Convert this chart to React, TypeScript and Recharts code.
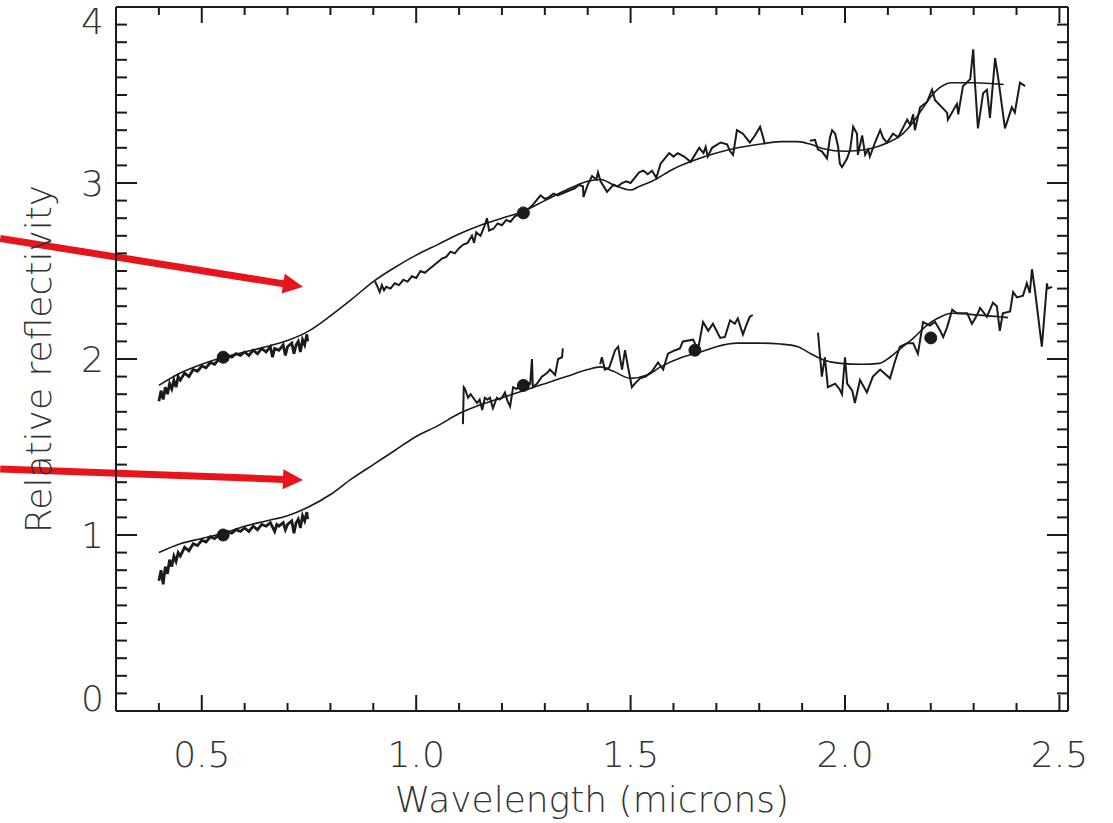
import { LineChart, Line, XAxis, YAxis, ReferenceLine } from "recharts";

// wavelength (microns), relative reflectivity
const upperModel = [
  [0.40, 1.85], [0.45, 1.92], [0.50, 1.97], [0.55, 2.01], [0.60, 2.04], [0.65, 2.07],
  [0.70, 2.105], [0.75, 2.16], [0.80, 2.245], [0.85, 2.34], [0.90, 2.44], [0.95, 2.52],
  [1.00, 2.59], [1.05, 2.65], [1.10, 2.71], [1.15, 2.76], [1.20, 2.80], [1.25, 2.84],
  [1.30, 2.90], [1.35, 2.96], [1.40, 3.01], [1.43, 3.02], [1.46, 2.99], [1.50, 2.96],
  [1.52, 2.98], [1.55, 3.01], [1.60, 3.08], [1.65, 3.13], [1.70, 3.17], [1.75, 3.20],
  [1.80, 3.22], [1.85, 3.235], [1.89, 3.235], [1.92, 3.22], [1.95, 3.195], [2.00, 3.18],
  [2.05, 3.19], [2.08, 3.21], [2.10, 3.23], [2.13, 3.27], [2.16, 3.35], [2.18, 3.42],
  [2.20, 3.49], [2.22, 3.54], [2.25, 3.57], [2.30, 3.57], [2.37, 3.56],
];

const lowerModel = [
  [0.40, 0.90], [0.45, 0.95], [0.50, 0.98], [0.55, 1.01], [0.60, 1.05], [0.65, 1.08],
  [0.70, 1.11], [0.75, 1.16], [0.80, 1.23], [0.85, 1.32], [0.90, 1.40], [0.95, 1.48],
  [1.00, 1.56], [1.05, 1.62], [1.10, 1.69], [1.15, 1.74], [1.20, 1.78], [1.25, 1.82],
  [1.30, 1.86], [1.35, 1.90], [1.40, 1.94], [1.43, 1.955], [1.46, 1.93], [1.50, 1.89],
  [1.54, 1.91], [1.57, 1.955], [1.62, 2.01], [1.67, 2.045], [1.70, 2.07], [1.75, 2.09],
  [1.80, 2.09], [1.85, 2.085], [1.89, 2.07], [1.92, 2.03], [1.95, 1.995], [1.99, 1.975],
  [2.04, 1.97], [2.08, 1.975], [2.105, 2.01], [2.13, 2.06], [2.16, 2.12], [2.19, 2.19],
  [2.215, 2.23], [2.25, 2.26], [2.31, 2.25], [2.36, 2.24], [2.38, 2.235],
];

const upperVisible = [
  [0.400, 1.76], [0.405, 1.82], [0.41, 1.77], [0.415, 1.84], [0.42, 1.80], [0.425, 1.86],
  [0.43, 1.83], [0.435, 1.88], [0.44, 1.84], [0.445, 1.90], [0.45, 1.88], [0.46, 1.92],
  [0.47, 1.90], [0.48, 1.94], [0.49, 1.93], [0.50, 1.96], [0.51, 1.95], [0.52, 1.98],
  [0.53, 1.97], [0.54, 2.00], [0.55, 2.00], [0.56, 2.02], [0.57, 2.01], [0.58, 2.03],
  [0.59, 2.02], [0.60, 2.04], [0.61, 2.02], [0.62, 2.05], [0.63, 2.03], [0.64, 2.06],
  [0.65, 2.04], [0.66, 2.07], [0.665, 2.01], [0.67, 2.06], [0.68, 2.05], [0.69, 2.08],
  [0.695, 2.02], [0.70, 2.07], [0.71, 2.09], [0.715, 2.03], [0.72, 2.08], [0.725, 2.10],
  [0.73, 2.04], [0.735, 2.11], [0.74, 2.08], [0.745, 2.14], [0.747, 2.10],
];

const upperNearIR = [
  [0.904, 2.44], [0.91, 2.41], [0.915, 2.38], [0.92, 2.42], [0.925, 2.39], [0.93, 2.41],
  [0.94, 2.40], [0.95, 2.43], [0.96, 2.42], [0.97, 2.45], [0.98, 2.44], [0.99, 2.47],
  [1.00, 2.46], [1.01, 2.50], [1.02, 2.49], [1.03, 2.51], [1.04, 2.53], [1.05, 2.55],
  [1.06, 2.57], [1.07, 2.58], [1.08, 2.61], [1.09, 2.60], [1.10, 2.63], [1.11, 2.65],
  [1.12, 2.66], [1.13, 2.70], [1.135, 2.66], [1.14, 2.72], [1.15, 2.70], [1.16, 2.76],
  [1.165, 2.80], [1.17, 2.73], [1.18, 2.74], [1.19, 2.77], [1.20, 2.76], [1.21, 2.79],
  [1.22, 2.78], [1.23, 2.81], [1.24, 2.82], [1.25, 2.84], [1.26, 2.85], [1.27, 2.87],
  [1.28, 2.90], [1.29, 2.93], [1.30, 2.91], [1.31, 2.92], [1.32, 2.94], [1.33, 2.93],
  [1.34, 2.94], [1.35, 2.95], [1.36, 2.96], [1.37, 2.97], [1.38, 2.99], [1.389, 2.98],
  [1.39, 2.92], [1.40, 2.99], [1.41, 3.04], [1.42, 3.02], [1.424, 3.06], [1.43, 3.01],
  [1.445, 2.95], [1.46, 2.99], [1.47, 2.98], [1.48, 3.00], [1.49, 3.01], [1.50, 3.00],
  [1.51, 3.03], [1.52, 3.06], [1.53, 3.07], [1.54, 3.05], [1.55, 3.07], [1.56, 3.03],
  [1.57, 3.11], [1.59, 3.17], [1.60, 3.15], [1.61, 3.17], [1.625, 3.15], [1.64, 3.12],
  [1.66, 3.20], [1.67, 3.17], [1.675, 3.205], [1.68, 3.15], [1.69, 3.20], [1.71, 3.23],
  [1.725, 3.22], [1.732, 3.18], [1.739, 3.16], [1.748, 3.30], [1.762, 3.28], [1.778, 3.23],
  [1.79, 3.27], [1.802, 3.32], [1.809, 3.26], [1.813, 3.22],
];

const upperKBand = [
  [1.918, 3.24], [1.930, 3.245], [1.937, 3.19], [1.946, 3.18], [1.958, 3.14], [1.965, 3.26],
  [1.970, 3.30], [1.977, 3.28], [1.984, 3.205], [1.988, 3.11], [1.993, 3.09], [2.005, 3.14],
  [2.012, 3.19], [2.019, 3.32], [2.028, 3.28], [2.030, 3.16], [2.040, 3.27], [2.047, 3.16],
  [2.054, 3.19], [2.058, 3.15], [2.070, 3.23], [2.082, 3.30], [2.089, 3.255], [2.098, 3.23],
  [2.112, 3.28], [2.124, 3.26], [2.145, 3.36], [2.152, 3.33], [2.159, 3.39], [2.163, 3.30],
  [2.175, 3.43], [2.191, 3.46], [2.203, 3.53], [2.210, 3.47], [2.238, 3.40], [2.240, 3.36],
  [2.261, 3.45], [2.264, 3.39], [2.275, 3.55], [2.292, 3.59], [2.299, 3.76], [2.303, 3.57],
  [2.310, 3.31], [2.322, 3.51], [2.331, 3.53], [2.338, 3.37], [2.350, 3.71], [2.357, 3.60],
  [2.373, 3.31], [2.389, 3.43], [2.396, 3.40], [2.408, 3.57], [2.420, 3.55],
];

const lowerVisible = [
  [0.40, 0.74], [0.405, 0.80], [0.41, 0.72], [0.415, 0.82], [0.42, 0.78], [0.425, 0.86],
  [0.43, 0.82], [0.435, 0.88], [0.44, 0.85], [0.445, 0.90], [0.45, 0.88], [0.46, 0.93],
  [0.47, 0.91], [0.48, 0.95], [0.49, 0.94], [0.50, 0.97], [0.51, 0.96], [0.52, 0.99],
  [0.53, 0.98], [0.54, 1.00], [0.55, 1.00], [0.56, 1.02], [0.57, 1.01], [0.58, 1.03],
  [0.59, 1.02], [0.60, 1.04], [0.61, 1.02], [0.62, 1.05], [0.63, 1.03], [0.64, 1.06],
  [0.65, 1.05], [0.66, 1.07], [0.67, 1.02], [0.675, 1.06], [0.68, 1.05], [0.69, 1.07],
  [0.695, 1.03], [0.70, 1.06], [0.71, 1.08], [0.715, 1.01], [0.72, 1.07], [0.725, 1.09],
  [0.73, 1.04], [0.735, 1.11], [0.74, 1.08], [0.745, 1.13], [0.747, 1.09],
];

const lowerJBand = [
  [1.109, 1.63], [1.111, 1.84], [1.114, 1.83], [1.121, 1.78], [1.127, 1.80], [1.133, 1.78],
  [1.142, 1.75], [1.148, 1.77], [1.154, 1.71], [1.160, 1.78], [1.166, 1.77], [1.172, 1.78],
  [1.179, 1.72], [1.188, 1.78], [1.194, 1.77], [1.200, 1.78], [1.207, 1.81], [1.213, 1.76],
  [1.219, 1.73], [1.226, 1.84], [1.234, 1.83], [1.242, 1.85], [1.250, 1.84], [1.258, 1.86],
  [1.266, 1.86], [1.270, 2.00], [1.272, 1.84], [1.282, 1.86], [1.293, 1.90], [1.305, 1.92],
  [1.312, 1.94], [1.324, 1.91], [1.331, 2.00], [1.340, 2.01], [1.342, 2.06],
];

const lowerHBand = [
  [1.429, 1.97], [1.433, 2.01], [1.440, 1.94], [1.45, 1.95], [1.464, 2.05], [1.471, 2.07],
  [1.480, 1.94], [1.487, 2.05], [1.494, 1.955], [1.503, 1.84], [1.510, 1.86], [1.522, 1.89],
  [1.535, 1.90], [1.550, 1.93], [1.564, 1.98], [1.576, 1.94], [1.587, 2.03], [1.604, 2.05],
  [1.615, 2.06], [1.622, 2.10], [1.646, 2.11], [1.657, 2.05], [1.669, 2.21], [1.681, 2.16],
  [1.692, 2.20], [1.709, 2.12], [1.720, 2.125], [1.732, 2.22], [1.743, 2.20], [1.750, 2.23],
  [1.762, 2.14], [1.771, 2.20], [1.778, 2.24], [1.785, 2.25],
];

const lowerKBand = [
  [1.937, 2.15], [1.942, 2.01], [1.946, 1.90], [1.953, 2.01], [1.960, 1.84], [1.977, 1.86],
  [1.987, 1.83], [1.993, 1.80], [2.000, 2.01], [2.005, 1.86], [2.017, 1.82], [2.023, 1.75],
  [2.035, 1.88], [2.051, 1.81], [2.065, 1.90], [2.082, 1.94], [2.105, 1.89], [2.117, 1.99],
  [2.128, 2.07], [2.145, 2.09], [2.159, 2.09], [2.170, 2.03], [2.182, 2.21], [2.198, 2.19],
  [2.210, 2.21], [2.222, 2.16], [2.229, 2.125], [2.238, 2.18], [2.250, 2.28], [2.261, 2.26],
  [2.285, 2.26], [2.296, 2.20], [2.308, 2.25], [2.315, 2.29], [2.331, 2.24], [2.345, 2.32],
  [2.354, 2.30], [2.361, 2.16], [2.368, 2.26], [2.385, 2.27], [2.392, 2.38], [2.401, 2.35],
  [2.415, 2.36], [2.424, 2.43], [2.431, 2.375], [2.436, 2.51], [2.443, 2.39], [2.455, 2.15],
  [2.459, 2.07], [2.462, 2.16], [2.471, 2.43], [2.473, 2.40], [2.483, 2.41],
];

// photometry points
const upperPhot = [[0.55, 2.01], [1.25, 2.83]];
const lowerPhot = [[0.55, 1.0], [1.25, 1.85], [1.65, 2.05], [2.2, 2.12]];

// arrow annotations [start, tip]
const arrows = [
  [[0.03, 2.685], [0.736, 2.41]],
  [[0.03, 1.375], [0.736, 1.312]],
];

const xMajorTicks = [0.5, 1.0, 1.5, 2.0, 2.5];
const xTicks = [
  0.4, 0.5, 0.6, 0.7, 0.8, 0.9, 1.0, 1.1, 1.2, 1.3, 1.4, 1.5,
  1.6, 1.7, 1.8, 1.9, 2.0, 2.1, 2.2, 2.3, 2.4, 2.5,
];
const yMajorTicks = [0, 1, 2, 3, 4];
const yTicks = [
  0, 0.1, 0.2, 0.3, 0.4, 0.5, 0.6, 0.7, 0.8, 0.9, 1, 1.1, 1.2, 1.3, 1.4, 1.5, 1.6, 1.7, 1.8, 1.9,
  2, 2.1, 2.2, 2.3, 2.4, 2.5, 2.6, 2.7, 2.8, 2.9, 3, 3.1, 3.2, 3.3, 3.4, 3.5, 3.6, 3.7, 3.8, 3.9, 4,
];

const INK = "#1a1a1a";
const TEXT = "#333";
const FONT = "'DejaVu Sans', sans-serif";
const RED = "#e8141c";

const pts = (arr: number[][]) => arr.map(([x, y]) => ({ x, y }));
const isMajor = (v: number, majors: number[]) => majors.some((m) => Math.abs(m - v) < 1e-6);

function BottomTick({ x, y, payload }: any) {
  const major = isMajor(payload.value, xMajorTicks);
  return (
    <g>
      <line x1={x} y1={y} x2={x} y2={y - (major ? 16 : 8)} stroke={INK} strokeWidth={2} />
      {major && (
        <text x={x} y={y + 56} textAnchor="middle" fontSize={36} fontWeight={200} fill={TEXT} fontFamily={FONT}>
          {payload.value.toFixed(1)}
        </text>
      )}
    </g>
  );
}

function TopTick({ x, y, payload }: any) {
  const major = isMajor(payload.value, xMajorTicks);
  return <line x1={x} y1={y} x2={x} y2={y + (major ? 16 : 8)} stroke={INK} strokeWidth={2} />;
}

function LeftTick({ x, y, payload }: any) {
  const major = isMajor(payload.value, yMajorTicks);
  const ly = Math.min(Math.max(y, 21), 698);
  return (
    <g>
      <line x1={x} y1={y} x2={x + (major ? 21 : 11)} y2={y} stroke={INK} strokeWidth={2} />
      {major && (
        <text x={x - 12} y={ly} dy="0.36em" textAnchor="end" fontSize={36} fontWeight={200} fill={TEXT} fontFamily={FONT}>
          {payload.value}
        </text>
      )}
    </g>
  );
}

function RightTick({ x, y, payload }: any) {
  const major = isMajor(payload.value, yMajorTicks);
  return <line x1={x} y1={y} x2={x - (major ? 21 : 11)} y2={y} stroke={INK} strokeWidth={2} />;
}

function Arrow({ x1, y1, x2, y2 }: any) {
  const dx = x2 - x1;
  const dy = y2 - y1;
  const len = Math.hypot(dx, dy) || 1;
  const ux = dx / len;
  const uy = dy / len;
  const head = 20;
  const half = 10;
  const bx = x2 - ux * head;
  const by = y2 - uy * head;
  return (
    <g>
      <line x1={x1} y1={y1} x2={bx + ux} y2={by + uy} stroke={RED} strokeWidth={7} />
      <polygon
        points={`${x2},${y2} ${bx - uy * half},${by + ux * half} ${bx + uy * half},${by - ux * half}`}
        fill={RED}
      />
    </g>
  );
}

const noisy = { stroke: INK, strokeWidth: 2, dot: false, isAnimationActive: false, type: "linear" as const };
const dense = { ...noisy, strokeWidth: 2.8 };
const model = { stroke: INK, strokeWidth: 1.6, dot: false, isAnimationActive: false, type: "monotone" as const };

export default function App() {
  const labelStyle = { fontSize: 36, fontWeight: 200, fill: TEXT, fontFamily: FONT, textAnchor: "middle" as const };
  return (
    <div style={{ position: "absolute", left: 0, top: 0, width: 1113, height: 823, background: "#fff" }}>
      <LineChart width={1113} height={823} margin={{ top: 6, right: 44, bottom: 0, left: 0 }}>
        <XAxis
          xAxisId="bottom"
          type="number"
          dataKey="x"
          domain={[0.3, 2.52]}
          allowDataOverflow
          ticks={xTicks}
          interval={0}
          tickSize={0}
          tickMargin={0}
          tickLine={false}
          tick={<BottomTick />}
          height={112}
          axisLine={{ stroke: INK, strokeWidth: 2 }}
          label={{ value: "Wavelength (microns)", position: "insideBottom", offset: 11, style: labelStyle }}
        />
        <XAxis
          xAxisId="top"
          orientation="top"
          type="number"
          dataKey="x"
          domain={[0.3, 2.52]}
          allowDataOverflow
          ticks={xTicks}
          interval={0}
          tickSize={0}
          tickMargin={0}
          tickLine={false}
          tick={<TopTick />}
          height={1}
          axisLine={{ stroke: INK, strokeWidth: 2 }}
        />
        <YAxis
          yAxisId="left"
          type="number"
          domain={[0, 4]}
          allowDataOverflow
          ticks={yTicks}
          interval={0}
          tickSize={0}
          tickMargin={0}
          tickLine={false}
          tick={<LeftTick />}
          width={116}
          axisLine={{ stroke: INK, strokeWidth: 2 }}
          label={{ value: "Relative reflectivity", angle: -90, position: "insideLeft", offset: 38, style: labelStyle }}
        />
        <YAxis
          yAxisId="right"
          orientation="right"
          type="number"
          domain={[0, 4]}
          allowDataOverflow
          ticks={yTicks}
          interval={0}
          tickSize={0}
          tickMargin={0}
          tickLine={false}
          tick={<RightTick />}
          width={1}
          axisLine={{ stroke: INK, strokeWidth: 2 }}
        />

        <Line xAxisId="bottom" yAxisId="left" data={pts(upperModel)} dataKey="y" {...model} />
        <Line xAxisId="bottom" yAxisId="left" data={pts(lowerModel)} dataKey="y" {...model} />
        <Line xAxisId="bottom" yAxisId="left" data={pts(upperVisible)} dataKey="y" {...dense} />
        <Line xAxisId="bottom" yAxisId="left" data={pts(upperNearIR)} dataKey="y" {...noisy} />
        <Line xAxisId="bottom" yAxisId="left" data={pts(upperKBand)} dataKey="y" {...noisy} />
        <Line xAxisId="bottom" yAxisId="left" data={pts(lowerVisible)} dataKey="y" {...dense} />
        <Line xAxisId="bottom" yAxisId="left" data={pts(lowerJBand)} dataKey="y" {...noisy} />
        <Line xAxisId="bottom" yAxisId="left" data={pts(lowerHBand)} dataKey="y" {...noisy} />
        <Line xAxisId="bottom" yAxisId="left" data={pts(lowerKBand)} dataKey="y" {...noisy} />
        <Line
          xAxisId="top"
          yAxisId="right"
          data={pts(upperPhot)}
          dataKey="y"
          stroke="none"
          dot={{ r: 6, fill: INK, stroke: INK, strokeWidth: 1 }}
          isAnimationActive={false}
        />
        <Line
          xAxisId="bottom"
          yAxisId="left"
          data={pts(lowerPhot)}
          dataKey="y"
          stroke="none"
          dot={{ r: 6, fill: INK, stroke: INK, strokeWidth: 1 }}
          isAnimationActive={false}
        />

        {arrows.map(([a, b], i) => (
          <ReferenceLine
            key={i}
            xAxisId="bottom"
            yAxisId="left"
            segment={[{ x: a[0], y: a[1] }, { x: b[0], y: b[1] }]}
            ifOverflow="visible"
            shape={(p: any) => <Arrow {...p} />}
          />
        ))}
      </LineChart>
    </div>
  );
}
